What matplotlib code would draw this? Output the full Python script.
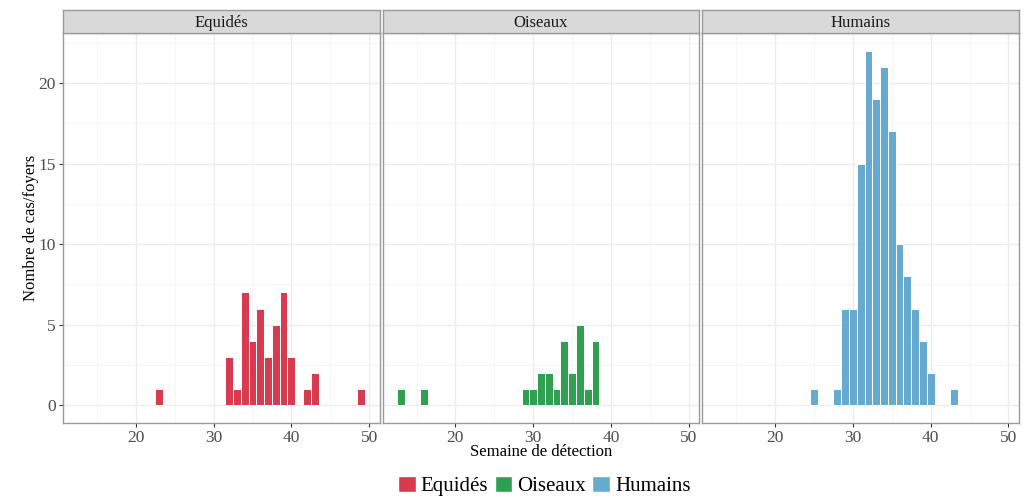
import matplotlib
matplotlib.use("Agg")
import matplotlib.pyplot as plt
from matplotlib.patches import Patch

plt.rcParams['font.family'] = ['Liberation Serif', 'DejaVu Serif']

# weekly counts
equides_weeks = [23, 32, 33, 34, 35, 36, 37, 38, 39, 40, 42, 43, 49]
equides_counts = [1, 3, 1, 7, 4, 6, 3, 5, 7, 3, 1, 2, 1]

oiseaux_weeks = [13, 16, 29, 30, 31, 32, 33, 34, 35, 36, 37, 38]
oiseaux_counts = [1, 1, 1, 1, 2, 2, 1, 4, 2, 5, 1, 4]

humains_weeks = [25, 28, 29, 30, 31, 32, 33, 34, 35, 36, 37, 38, 39, 40, 43]
humains_counts = [1, 1, 6, 6, 15, 22, 19, 21, 17, 10, 8, 6, 4, 2, 1]

groups = ["Equidés", "Oiseaux", "Humains"]
colors = ["#D73B50", "#2FA051", "#67AAD0"]
series = [(equides_weeks, equides_counts),
          (oiseaux_weeks, oiseaux_counts),
          (humains_weeks, humains_counts)]

W, H = 1033, 496
fig = plt.figure(figsize=(W / 100, H / 100), dpi=100)

left_px, right_px = 63, 1019
top_px, bot_px = 33, 423
strip_top = 10
gap = 3
pw = (right_px - left_px - 2 * gap) / 3

border = "#9A9A9A"
for i, (name, col, (wk, ct)) in enumerate(zip(groups, colors, series)):
    x0 = left_px + i * (pw + gap)
    ax = fig.add_axes([x0 / W, 1 - bot_px / H, pw / W, (bot_px - top_px) / H])
    ax.bar(wk, ct, width=1, color=col, edgecolor="white", linewidth=0.7, zorder=3)
    ax.set_xlim(10.65, 51.35)
    ax.set_ylim(-1.1, 23.1)
    ax.set_xticks([20, 30, 40, 50])
    ax.set_xticks([15, 25, 35, 45], minor=True)
    ax.set_yticks([0, 5, 10, 15, 20])
    ax.set_yticks([2.5, 7.5, 12.5, 17.5, 22.5], minor=True)
    ax.grid(True, which="major", color="#EBEBEB", linewidth=0.9, zorder=0)
    ax.grid(True, which="minor", color="#F4F4F4", linewidth=0.6, zorder=0)
    ax.tick_params(which="minor", length=0)
    ax.tick_params(which="major", length=3, color="#333333", labelsize=12.5,
                   labelcolor="#4D4D4D", pad=2)
    for s in ax.spines.values():
        s.set_color(border)
        s.set_linewidth(1.0)
    if i > 0:
        ax.tick_params(axis="y", labelleft=False, length=0)

    # facet strip
    sax = fig.add_axes([x0 / W, 1 - top_px / H, pw / W, (top_px - strip_top) / H])
    sax.set_facecolor("#D9D9D9")
    sax.set_xticks([])
    sax.set_yticks([])
    for s in sax.spines.values():
        s.set_color(border)
        s.set_linewidth(1.0)
    sax.text(0.5, 0.45, name, ha="center", va="center", fontsize=12,
             color="#1A1A1A", transform=sax.transAxes)

fig.text(left_px / W + (right_px - left_px) / W / 2, 1 - 452 / H,
         "Semaine de détection", ha="center", va="center", fontsize=12)
fig.text(31 / W, 1 - (top_px + bot_px) / 2 / H, "Nombre de cas/foyers",
         rotation=90, ha="center", va="center", fontsize=12)

handles = [Patch(facecolor=c, edgecolor="white") for c in colors]
fig.legend(handles, groups, loc="center", bbox_to_anchor=(0.527, 1 - 486 / H),
           ncol=3, frameon=False, fontsize=15, handlelength=0.85, handleheight=0.85,
           handletextpad=0.25, columnspacing=0.3, borderpad=0)

fig.savefig("out.png", dpi=100)
